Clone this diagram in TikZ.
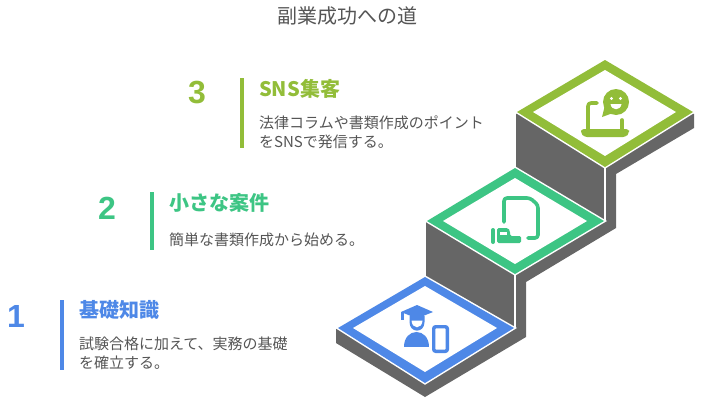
\documentclass[tikz,border=0pt]{standalone}
\usepackage{fontspec}
\setmainfont{Noto Sans CJK JP}
\newfontfamily\numfont{Liberation Sans}
\definecolor{stepgreen}{HTML}{92BD39}
\definecolor{stepmint}{HTML}{3DC584}
\definecolor{stepblue}{HTML}{4E88E7}
\definecolor{stepgrey}{HTML}{666666}
\definecolor{textgrey}{HTML}{555555}
\lineskiplimit=-10pt
\normallineskiplimit=-10pt
\tikzset{
  stepnum/.style={font=\numfont\fontsize{32}{32}\selectfont\bfseries, inner sep=0pt},
  stephead/.style={font=\fontsize{20}{22}\selectfont\bfseries, anchor=west, inner sep=0pt},
  stepbody/.style={font=\fontsize{15}{19}\selectfont, text=textgrey, anchor=west, align=left, inner sep=0pt},
  gapline/.style={preaction={draw=white, line width=3pt}},
  iconline/.style={line width=3.6pt, line cap=round, line join=round}
}
\begin{document}
\begin{tikzpicture}[x=1pt, y=-1pt]
  \useasboundingbox (0,0) rectangle (703,404);

  \node (title) at (347.5,16) [font=\fontsize{20}{22}\selectfont, text=textgrey, inner sep=0pt] {副業成功への道};

  % stairs
  \fill[stepgrey] (516,114) -- (605,62) -- (694,114) -- (694,128) -- (616,174) -- (616,228)
    -- (526,282) -- (526,337) -- (425,397) -- (336,343) -- (336,329) -- (426,277) -- (426,222) -- (516,168) -- cycle;
  \draw[white, line width=1.6pt] (605,167) -- (605,221);
  \draw[white, line width=1.6pt] (515,275) -- (515,328);

  % step 3
  \fill[stepgreen, gapline] (605,60) -- (693,112) -- (605,167) -- (517,112) -- cycle;
  \fill[white] (605,70) -- (676,112) -- (605,156) -- (533,112) -- cycle;
  % step 2
  \fill[stepmint, gapline] (515,168) -- (604,221) -- (515,274) -- (427,221) -- cycle;
  \fill[white] (515,178) -- (587,221) -- (515,264) -- (443,221) -- cycle;
  % step 1
  \fill[stepblue, gapline] (425,277) -- (514,328) -- (425,383) -- (338,328) -- cycle;
  \fill[white] (425,286) -- (497,328) -- (425,372) -- (353,328) -- cycle;

  % laptop
  \draw[stepgreen, iconline, rounded corners=3pt] (597,103) -- (588,103) -- (588,130);
  \draw[stepgreen, iconline] (622,120) -- (622,130);
  \fill[stepgreen, rounded corners=3pt] (581,129) -- (629,129) -- (629,133) -- (626,137) -- (584,137) -- (581,133) -- cycle;
  \fill[stepgreen] (616,102) circle [radius=13pt];
  \fill[stepgreen] (602,117) -- (605,105) -- (613,113) -- cycle;
  \fill[white] (611.5,98.5) circle [radius=1.7pt];
  \fill[white] (620.5,98.5) circle [radius=1.7pt];
  \fill[white] (610.5,104) .. controls (611.5,111) and (620.5,111) .. (621.5,104) -- cycle;

  % paper and hand
  \draw[stepmint, iconline, rounded corners=3pt] (504,222) -- (504,198) -- (530,198) -- (538,205) -- (538,238) -- (528,238);
  \draw[stepmint, line width=4pt, line cap=round] (493,230) -- (493,242);
  \fill[stepmint, rounded corners=1.5pt] (497,228) -- (508,228) -- (510,231) -- (510,236) -- (521,236) -- (521,243) -- (497,243) -- cycle;
  \fill[white] (500,231.5) rectangle (507,234.5);

  % graduate and phone
  \fill[stepblue] (417,305) -- (433,312) -- (417,318.5) -- (401,312) -- cycle;
  \draw[stepblue, line width=2.4pt] (402.5,312) -- (402.5,320);
  \fill[stepblue] (409.5,316) -- (424.5,316) -- (424.5,322) .. controls (424.5,333.5) and (409.5,333.5) .. (409.5,322) -- cycle;
  \fill[white] (411.5,320.5) -- (422.5,320.5) .. controls (422,329.5) and (412,329.5) .. (411.5,320.5) -- cycle;
  \fill[stepblue] (404,347) .. controls (404,327) and (429,327) .. (429,347) -- cycle;
  \draw[stepblue, line width=3.4pt, rounded corners=2pt] (433.7,326.7) rectangle (447.3,351.3);

  % 3
  \node (num3) at (197,93) [stepnum, text=stepgreen] {3};
  \fill[stepgreen] (240,78) rectangle (244,148);
  \node (head3) at (259,89) [stephead, text=stepgreen] {SNS集客};
  \node (body3) at (259,132) [stepbody] {法律コラムや書類作成のポイント\\をSNSで発信する。};

  % 2
  \node (num2) at (107,208) [stepnum, text=stepmint] {2};
  \fill[stepmint] (150,192) rectangle (154,250);
  \node (head2) at (169,203) [stephead, text=stepmint] {小さな案件};
  \node (body2) at (169,240) [stepbody] {簡単な書類作成から始める。};

  % 1
  \node (num1) at (16,316) [stepnum, text=stepblue] {1};
  \fill[stepblue] (60,300) rectangle (64,370);
  \node (head1) at (79,309.5) [stephead, text=stepblue] {基礎知識};
  \node (body1) at (79,353.5) [stepbody] {試験合格に加えて、実務の基礎\\を確立する。};
\end{tikzpicture}
\end{document}
